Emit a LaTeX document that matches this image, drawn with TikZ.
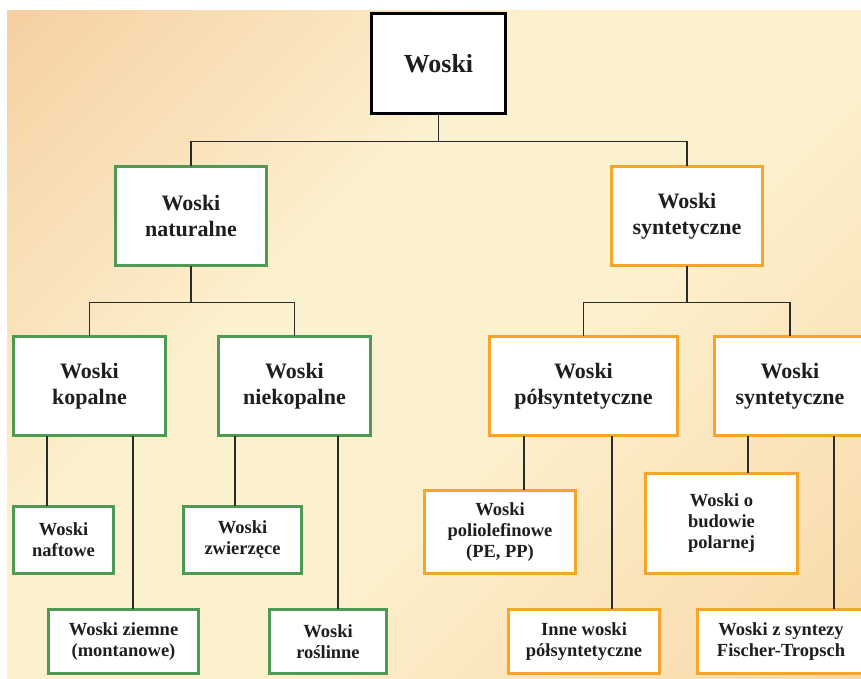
\documentclass[tikz,border=0pt]{standalone}
\usepackage{fontspec}
\setmainfont{Liberation Serif}
\definecolor{gr}{HTML}{4E9A55}
\definecolor{orb}{HTML}{F5A52A}
\definecolor{txt}{HTML}{1E1E1E}
\definecolor{lncol}{HTML}{2A2A2A}
\definecolor{bgTL}{HTML}{F2B988}
\definecolor{bgTLb}{HTML}{F7D4A8}
\definecolor{bgM}{HTML}{FCF1CE}
\definecolor{bgBRb}{HTML}{F9DCAE}
\definecolor{bgBR}{HTML}{F5C088}
\pgfdeclareverticalshading{bgsh}{100bp}{color(0bp)=(bgBR); color(20bp)=(bgBRb); color(44bp)=(bgM); color(60bp)=(bgM); color(82bp)=(bgTLb); color(100bp)=(bgTL)}
\tikzset{
  bx/.style={draw, fill=white, line width=2.6pt, inner sep=0pt, outer sep=0pt, align=center, text=txt,
    font=\bfseries\fontsize{22}{26}\selectfont},
  gb/.style={bx, draw=gr},
  ob/.style={bx, draw=orb},
  sm/.style={font=\bfseries\fontsize{18.5}{21}\selectfont},
  l1/.style={minimum width=151.5pt, minimum height=99.5pt},
  l3/.style={minimum height=64.5pt},
  conn/.style={line width=1.3pt, draw=lncol}
}
\begin{document}
\begin{tikzpicture}[x=1pt, y=-1pt]
\useasboundingbox (0,0) rectangle (861,678);
\shade[shading=bgsh, shading angle=45] (7,10) rectangle (861,678);

% level 0
\node[bx, draw=black, line width=3pt, minimum width=134pt, minimum height=100pt,
  font=\bfseries\fontsize{26}{30}\selectfont] (root) at (438.5,63.5) {Woski};

% level 1
\node[gb, l1] (nat) at (191,216) {Woski\\naturalne};
\node[ob, l1] (syn) at (687,216) {Woski\\syntetyczne};

% level 2
\node[gb, l1, minimum width=152.5pt] (kop) at (89.5,386) {Woski\\kopalne};
\node[gb, l1, minimum width=152.5pt] (niek) at (294.5,386) {Woski\\niekopalne};
\node[ob, l1, minimum width=188.5pt] (pols) at (583.5,386) {Woski\\półsyntetyczne};
\node[ob, l1] (syn2) at (790,386) {Woski\\syntetyczne};

% level 3
\node[gb, sm, minimum width=100.5pt, minimum height=67.5pt] (naft) at (63.5,540) {Woski\\naftowe};
\node[gb, sm, l3, minimum width=150.5pt] (ziem) at (123.5,641.5) {Woski ziemne\\(montanowe)};
\node[gb, sm, minimum width=118.5pt, minimum height=67.5pt] (zwier) at (242.5,540) {Woski\\zwierzęce};
\node[gb, sm, l3, minimum width=117.5pt] (rosl) at (328,641.5) {Woski\\roślinne};
\node[ob, sm, minimum width=151.5pt, minimum height=83.5pt] (polio) at (500,532) {Woski\\poliolefinowe\\(PE, PP)};
\node[ob, sm, l3, minimum width=151.5pt] (inne) at (584,641.5) {Inne woski\\półsyntetyczne};
\node[ob, sm, minimum width=152.5pt, minimum height=100.5pt] (polar) at (721.5,523.5)
  {\raisebox{9pt}{\begin{tabular}{@{}c@{}}Woski o\\budowie\\polarnej\end{tabular}}};
\node[ob, sm, l3, minimum width=167.5pt] (fisch) at (781,641.5) {Woski z syntezy\\Fischer-Tropsch};

% connectors level 0 -> 1
\path (nat.north) ++(0,-25) coordinate (h1);
\draw[conn] (nat.north) -- (h1) -| (syn.north);
\draw[conn] (root.south) -- (root.south |- h1);

% connectors level 1 -> 2
\path (kop.north) ++(0,-34) coordinate (h2);
\draw[conn] (kop.north) -- (h2) -| (niek.north);
\draw[conn] (nat.south) -- (nat.south |- h2);
\path (pols.north) ++(0,-34) coordinate (h3);
\draw[conn] (pols.north) -- (h3) -| (syn2.north);
\draw[conn] (syn.south) -- (syn.south |- h3);

% connectors level 2 -> 3
\draw[conn] ([xshift=-42.5pt]kop.south) -- ([xshift=-42.5pt]kop.south |- naft.north);
\draw[conn] ([xshift=43.5pt]kop.south) -- ([xshift=43.5pt]kop.south |- ziem.north);
\draw[conn] ([xshift=-59.5pt]niek.south) -- ([xshift=-59.5pt]niek.south |- zwier.north);
\draw[conn] ([xshift=43.5pt]niek.south) -- ([xshift=43.5pt]niek.south |- rosl.north);
\draw[conn] ([xshift=-59.5pt]pols.south) -- ([xshift=-59.5pt]pols.south |- polio.north);
\draw[conn] ([xshift=28.5pt]pols.south) -- ([xshift=28.5pt]pols.south |- inne.north);
\draw[conn] ([xshift=-42pt]syn2.south) -- ([xshift=-42pt]syn2.south |- polar.north);
\draw[conn] ([xshift=44pt]syn2.south) -- ([xshift=44pt]syn2.south |- fisch.north);
\end{tikzpicture}
\end{document}
